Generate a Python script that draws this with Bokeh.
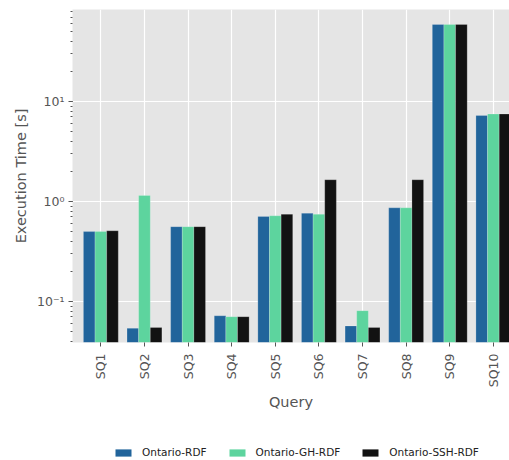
import math
from bokeh.plotting import figure
from bokeh.layouts import column
from bokeh.models import (ColumnDataSource, FixedTicker, Legend, LegendItem,
                          CustomJSTickFormatter)
from bokeh.embed import file_html
from bokeh.resources import INLINE

queries = ["SQ1", "SQ2", "SQ3", "SQ4", "SQ5", "SQ6", "SQ7", "SQ8", "SQ9", "SQ10"]
series_names = ["Ontario-RDF", "Ontario-GH-RDF", "Ontario-SSH-RDF"]
ontario_rdf = [0.50, 0.054, 0.56, 0.072, 0.71, 0.764, 0.057, 0.865, 59.0, 7.25]
ontario_gh_rdf = [0.50, 1.15, 0.56, 0.0705, 0.72, 0.746, 0.081, 0.865, 59.0, 7.5]
ontario_ssh_rdf = [0.51, 0.055, 0.56, 0.0705, 0.746, 1.65, 0.055, 1.65, 59.0, 7.5]
colors = ["#21649b", "#5dd49e", "#121212"]

FONT = "DejaVu Sans"
TXT = "#555555"

p = figure(width=509, height=428, y_axis_type="log",
           x_range=(-0.65, 9.37), y_range=(0.0389, 83.2),
           output_backend="svg", toolbar_location=None,
           min_border_left=72, min_border_right=0, min_border_top=9,
           min_border_bottom=86)
p.background_fill_color = "#e5e5e5"
p.border_fill_color = "white"
p.outline_line_color = None

bar_w = 0.8 / 3
for i, (name, vals) in enumerate(zip(series_names,
                                     [ontario_rdf, ontario_gh_rdf, ontario_ssh_rdf])):
    xs = [k + (i - 1) * bar_w for k in range(len(queries))]
    src = ColumnDataSource(dict(x=xs, top=vals, bottom=[1e-3] * len(vals)))
    p.vbar(x="x", top="top", bottom="bottom", width=bar_w, source=src,
           fill_color=colors[i], line_color="#ffffff", line_alpha=0.25,
           line_width=0.8)

# x axis: one tick per query, labels turned upright
p.xaxis.ticker = FixedTicker(ticks=list(range(len(queries))))
p.xaxis.major_label_overrides = {k: q for k, q in enumerate(queries)}
p.xaxis.major_label_orientation = math.pi / 2
p.xaxis.minor_tick_line_color = None
p.xaxis.bounds = (-0.65, 9.65)
p.xaxis.axis_label = "Query"
p.xaxis.major_label_standoff = 7
p.xaxis.axis_label_standoff = 4

# y axis: powers of ten with superscript exponents
p.yaxis.formatter = CustomJSTickFormatter(code="""
    const sup = {'-':'\u207b','0':'\u2070','1':'\u00b9','2':'\u00b2','3':'\u00b3',
                 '4':'\u2074','5':'\u2075','6':'\u2076','7':'\u2077','8':'\u2078','9':'\u2079'};
    const e = Math.round(Math.log10(tick));
    return '10' + String(e).split('').map(c => sup[c]).join('');
""")
p.yaxis.axis_label = "Execution Time [s]"
p.yaxis.major_label_standoff = 4

for ax in (p.xaxis[0], p.yaxis[0]):
    ax.axis_line_color = None
    ax.major_tick_line_color = TXT
    ax.major_tick_in = 0
    ax.major_tick_out = 4
    ax.major_label_text_font = FONT
    ax.major_label_text_color = TXT
    ax.major_label_text_font_size = "12.5px"
    ax.axis_label_text_font = FONT
    ax.axis_label_text_color = TXT
    ax.axis_label_text_font_style = "normal"
    ax.axis_label_text_font_size = "14.5px"
p.yaxis.minor_tick_line_color = TXT
p.yaxis.minor_tick_in = 0
p.yaxis.minor_tick_out = 2

p.xgrid.grid_line_color = "white"
p.ygrid.grid_line_color = "white"
p.xgrid.grid_line_width = 1.2
p.ygrid.grid_line_width = 1.2

# legend strip under the chart (its frame lines up with the chart's frame)
leg = figure(width=509, height=32, x_range=(0, 1), y_range=(0, 1),
             output_backend="svg", toolbar_location=None,
             x_axis_location=None, y_axis_location=None,
             min_border=0)
leg.outline_line_color = None
leg.grid.visible = False
items = []
for name, c in zip(series_names, colors):
    # swatch source kept outside the visible range; only the legend shows it
    r = leg.vbar(x=[5], top=[5.5], bottom=[5], width=0.1,
                 fill_color=c, line_color=None)
    items.append(LegendItem(label=name, renderers=[r]))
legend = Legend(items=items, orientation="horizontal", location=(41, 2),
                label_text_font=FONT, label_text_font_size="10.5px",
                label_text_color="#222222", glyph_width=20, glyph_height=9,
                label_standoff=9, spacing=20, padding=0, margin=0,
                border_line_color=None, background_fill_alpha=0)
leg.add_layout(legend, "center")

open("out.html", "w").write(file_html(column(p, leg, spacing=0), INLINE))
